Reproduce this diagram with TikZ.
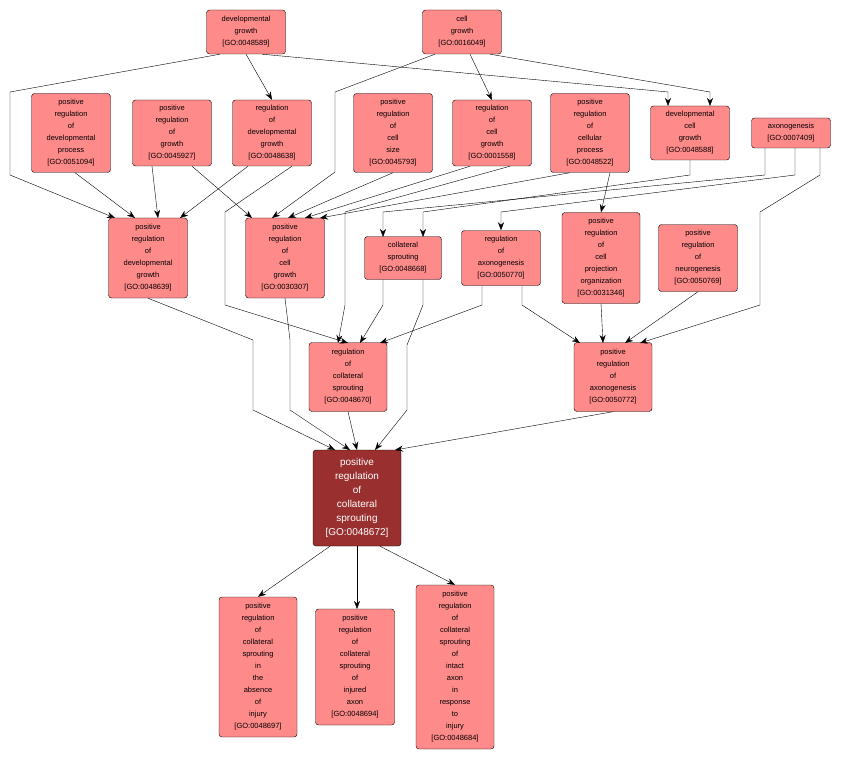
\documentclass[tikz,border=0pt]{standalone}
\usepackage{fontspec}
\setmainfont{Liberation Sans}
\usetikzlibrary{arrows.meta}
\definecolor{termfill}{HTML}{FF8A8A}
\definecolor{mainfill}{HTML}{9A2F2F}
\tikzset{
  term/.style={draw=black,fill=termfill,rounded corners=3pt,align=center,inner sep=1pt,
    font=\fontsize{7.5}{12}\selectfont,minimum width=79pt},
  mainterm/.style={term,fill=mainfill,text=white,font=\fontsize{10}{14}\selectfont,minimum width=88pt},
  edge/.style={-{Stealth[length=8pt,width=6pt]},black,thin}
}
\begin{document}
\begin{tikzpicture}[x=1pt,y=-1pt]
\useasboundingbox (0,0) rectangle (842,759);
\node[term,minimum height=44pt] (dg) at (246,32) {developmental\\growth\\{[GO:0048589]}};
\node[term,minimum height=44pt] (cg) at (462,32) {cell\\growth\\{[GO:0016049]}};
\node[term,minimum height=79pt] (prdp) at (71,133) {positive\\regulation\\of\\developmental\\process\\{[GO:0051094]}};
\node[term,minimum height=66pt] (prg) at (172,133) {positive\\regulation\\of\\growth\\{[GO:0045927]}};
\node[term,minimum height=66pt] (rdg) at (272,133) {regulation\\of\\developmental\\growth\\{[GO:0048638]}};
\node[term,minimum height=79pt] (prcs) at (393,133) {positive\\regulation\\of\\cell\\size\\{[GO:0045793]}};
\node[term,minimum height=66pt] (rcg) at (492,133) {regulation\\of\\cell\\growth\\{[GO:0001558]}};
\node[term,minimum height=79pt] (prcp) at (590,133) {positive\\regulation\\of\\cellular\\process\\{[GO:0048522]}};
\node[term,minimum height=54pt] (dcg) at (690,133) {developmental\\cell\\growth\\{[GO:0048588]}};
\node[term,minimum height=30pt] (axo) at (791,133) {axonogenesis\\{[GO:0007409]}};
\node[term,minimum height=80pt] (prdg) at (148,258) {positive\\regulation\\of\\developmental\\growth\\{[GO:0048639]}};
\node[term,minimum height=80pt] (prcg) at (285,258) {positive\\regulation\\of\\cell\\growth\\{[GO:0030307]}};
\node[term,minimum height=43pt,minimum width=77pt] (cs) at (403,258) {collateral\\sprouting\\{[GO:0048668]}};
\node[term,minimum height=55pt] (rax) at (501,258) {regulation\\of\\axonogenesis\\{[GO:0050770]}};
\node[term,minimum height=91pt,minimum width=78pt] (prcpo) at (601,258) {positive\\regulation\\of\\cell\\projection\\organization\\{[GO:0031346]}};
\node[term,minimum height=67pt] (prn) at (698,258) {positive\\regulation\\of\\neurogenesis\\{[GO:0050769]}};
\node[term,minimum height=69pt,minimum width=78pt] (rcs) at (348,377) {regulation\\of\\collateral\\sprouting\\{[GO:0048670]}};
\node[term,minimum height=69pt,minimum width=78pt] (pra) at (613,377) {positive\\regulation\\of\\axonogenesis\\{[GO:0050772]}};
\node[mainterm,minimum height=96pt] (main) at (357,498) {positive\\regulation\\of\\collateral\\sprouting\\{[GO:0048672]}};
\node[term,minimum height=140pt,minimum width=78pt] (abs) at (258,667) {positive\\regulation\\of\\collateral\\sprouting\\in\\the\\absence\\of\\injury\\{[GO:0048697]}};
\node[term,minimum height=116pt] (inj) at (355,667) {positive\\regulation\\of\\collateral\\sprouting\\of\\injured\\axon\\{[GO:0048694]}};
\node[term,minimum height=164pt,minimum width=78pt] (resp) at (455,667) {positive\\regulation\\of\\collateral\\sprouting\\of\\intact\\axon\\in\\response\\to\\injury\\{[GO:0048684]}};
% top level
\draw[edge] (dg.south) ++(-26,0) -- (10,92) -- (10,175) -- (115,218);
\draw[edge] (dg.south) -- (rdg.north);
\draw[edge] (dg.south) ++(16,0) -- (668,92) -- (668,106);
\draw[edge] (cg.south) ++(-27,0) -- (335,92) -- (335,172) -- (272,218);
\draw[edge] (cg.south) ++(8,0) -- (492,100);
\draw[edge] (cg.south) ++(28,0) -- (710,92) -- (710,106);
% second row
\draw[edge] (prdp.south) ++(4,0) -- (135,218);
\draw[edge] (prg.south) ++(-20,0) -- (158,218);
\draw[edge] (rdg.south) ++(-24,0) -- (180,218);
\draw[edge] (prg.south) ++(20,0) -- (252,218);
\draw[edge] (prcs.south) -- (288,218);
\draw[edge] (rcg.south) ++(-22,0) -- (305,218);
\draw[edge] (prcp.south) ++(-20,0) -- (320,218);
\draw[edge] (prcp.south) ++(20,0) -- (prcpo.north);
\draw[edge] (rdg.south) ++(20,0) -- (225,212) -- (225,305) -- (348,343);
\draw[edge] (rcg.south) ++(18,0) -- (345,212) -- (345,305) -- (338,343);
\draw[edge] (dcg.south) -- (690,175) -- (423,212) -- (423,237);
\draw[edge] (axo.south) ++(-26,0) -- (765,175) -- (383,212) -- (383,237);
\draw[edge] (axo.south) ++(4,0) -- (795,175) -- (501,212) -- (rax.north);
\draw[edge] (axo.south) ++(29,0) -- (820,175) -- (760,212) -- (760,305) -- (640,343);
% third row
\draw[edge] (cs.south) ++(-20,0) -- (383,305) -- (360,343);
\draw[edge] (rax.south) ++(-19,0) -- (482,305) -- (380,343);
\draw[edge] (rax.south) ++(21,0) -- (522,305) -- (580,343);
\draw[edge] (prcpo.south) -- (603,343);
\draw[edge] (prn.south) -- (625,343);
% into main
\draw[edge] (prdg.south) -- (253,340) -- (253,410) -- (335,450);
\draw[edge] (prcg.south) -- (290,340) -- (290,410) -- (350,450);
\draw[edge] (rcs.south) -- (357,450);
\draw[edge] (cs.south) ++(20,0) -- (423,305) -- (407,345) -- (407,410) -- (375,450);
\draw[edge] (pra.south) -- (395,450);
% children
\draw[edge] (main.south) ++(-27,0) -- (abs.north);
\draw[edge] (main.south) -- (357,609);
\draw[edge] (main.south) ++(23,0) -- (resp.north);
\end{tikzpicture}
\end{document}
